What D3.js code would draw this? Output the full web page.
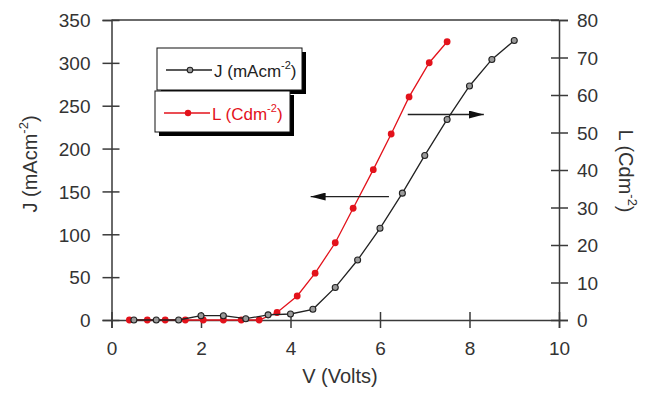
<!DOCTYPE html>
<html>
<head>
<meta charset="utf-8">
<script src="https://cdn.jsdelivr.net/npm/d3@7"></script>
<style>
  html, body { margin: 0; padding: 0; background: #fff; }
  svg { display: block; font-family: "Liberation Sans", Arial, sans-serif; }
</style>
</head>
<body>
<svg id="chart" width="651" height="393"></svg>
<script>
// ---- data ----
const jVolts = [0.5, 1, 1.5, 2, 2.5, 3, 3.5, 4, 4.5, 5, 5.5, 6, 6.5, 7, 7.5, 8, 8.5, 9];
const jValues = [0, 0, 0, 5, 5, 1.5, 6, 7, 12.5, 38, 70, 107, 148, 192, 234, 273, 304, 326];
const lVolts = [0.4, 0.8, 1.2, 1.65, 2.05, 2.5, 2.9, 3.3, 3.7, 4.15, 4.55, 5.0, 5.4, 5.85, 6.25, 6.65, 7.1, 7.5];
const lValues = [0, 0, 0, 0, 0, 0, 0, 0, 2, 6.4, 12.5, 20.6, 29.8, 40.1, 49.6, 59.5, 68.6, 74.2];
const xTicks = [0, 2, 4, 6, 8, 10];
const leftTicks = [0, 50, 100, 150, 200, 250, 300, 350];
const rightTicks = [0, 10, 20, 30, 40, 50, 60, 70, 80];
const seriesNames = ["J (mAcm", "L (Cdm"];

const svg = d3.select("#chart");
const L = 111.5, R = 559, T = 20, B = 320;
const x = d3.scaleLinear().domain([0, 10]).range([L, R]);
const yL = d3.scaleLinear().domain([0, 350]).range([B, T]);
const yR = d3.scaleLinear().domain([0, 80]).range([B, T]);
const axisColor = "#3a3a3a";
const red = "#e3121b";

// top border
svg.append("line").attr("x1", L).attr("x2", R).attr("y1", T).attr("y2", T)
  .attr("stroke", axisColor).attr("stroke-width", 1.5);

function styleAxis(g, inner, outer, dir) {
  g.select(".domain").attr("stroke", axisColor).attr("stroke-width", 1.5);
  g.selectAll(".tick line").attr("stroke", axisColor).attr("stroke-width", 1.5);
  g.selectAll(".tick text").attr("fill", "#333").attr("font-size", "19px")
    .attr("font-family", "'Liberation Sans', Arial, sans-serif");
}

// x axis
const gx = svg.append("g").attr("transform", `translate(0,${B})`)
  .call(d3.axisBottom(x).tickValues(xTicks).tickFormat(d3.format("d")).tickSizeOuter(0).tickSize(8));
styleAxis(gx);
gx.selectAll(".tick line").attr("y1", -8).attr("y2", 8);
gx.selectAll(".tick text").attr("y", 35).attr("dy", 0);

// left axis
const gl = svg.append("g").attr("transform", `translate(${L},0)`)
  .call(d3.axisLeft(yL).tickValues(leftTicks).tickFormat(d3.format("d")).tickSizeOuter(0).tickSize(9));
styleAxis(gl);
gl.selectAll(".tick line").attr("x1", -9).attr("x2", 8);
gl.selectAll(".tick text").attr("x", -21).attr("dy", "0.36em");

// right axis
const gr = svg.append("g").attr("transform", `translate(${R},0)`)
  .call(d3.axisRight(yR).tickValues(rightTicks).tickFormat(d3.format("d")).tickSizeOuter(0).tickSize(9));
styleAxis(gr);
gr.selectAll(".tick line").attr("x1", -8).attr("x2", 9);
gr.selectAll(".tick text").attr("x", 18).attr("dy", "0.36em");

// axis titles
svg.append("text").attr("x", 340).attr("y", 383).attr("text-anchor", "middle")
  .attr("font-size", "20px").attr("fill", "#333").text("V (Volts)");

const tl = svg.append("text").attr("transform", "translate(37,164) rotate(-90)")
  .attr("text-anchor", "middle").attr("font-size", "20px").attr("fill", "#333");
tl.append("tspan").text("J (mAcm");
tl.append("tspan").attr("font-size", "13px").attr("dy", -9).text("-2");
tl.append("tspan").attr("dy", 9).text(")");

const tr = svg.append("text").attr("transform", "translate(619,171) rotate(90)")
  .attr("text-anchor", "middle").attr("font-size", "20px").attr("fill", "#333");
tr.append("tspan").text("L (Cdm");
tr.append("tspan").attr("font-size", "13px").attr("dy", -9).text("-2");
tr.append("tspan").attr("dy", 9).text(")");

// series lines
const jData = jVolts.map((v, i) => [v, jValues[i]]);
const lData = lVolts.map((v, i) => [v, lValues[i]]);
const lineJ = d3.line().x(d => x(d[0])).y(d => yL(d[1]));
const lineL = d3.line().x(d => x(d[0])).y(d => yR(d[1]));

svg.append("path").datum(lData).attr("d", lineL).attr("fill", "none")
  .attr("stroke", red).attr("stroke-width", 1.3);
svg.selectAll(".lpt").data(lData).enter().append("circle")
  .attr("cx", d => x(d[0])).attr("cy", d => yR(d[1])).attr("r", 3.4).attr("fill", red);

svg.append("path").datum(jData).attr("d", lineJ).attr("fill", "none")
  .attr("stroke", "#222").attr("stroke-width", 1.3);
svg.selectAll(".jpt").data(jData).enter().append("circle")
  .attr("cx", d => x(d[0])).attr("cy", d => yL(d[1])).attr("r", 3)
  .attr("fill", "#9a9a9a").attr("stroke", "#222").attr("stroke-width", 1.1);

// arrows
const defs = svg.append("defs");
defs.append("marker").attr("id", "ah").attr("viewBox", "0 0 15 8")
  .attr("refX", 15).attr("refY", 4).attr("markerWidth", 15).attr("markerHeight", 8)
  .attr("markerUnits", "userSpaceOnUse").attr("orient", "auto")
  .append("path").attr("d", "M0,0 L15,4 L0,8 Z").attr("fill", "#111");
// left-pointing arrow (J -> left axis)
svg.append("line").attr("x1", x(6.2)).attr("x2", x(4.45)).attr("y1", yL(144)).attr("y2", yL(144))
  .attr("stroke", "#222").attr("stroke-width", 1.3).attr("marker-end", "url(#ah)");
// right-pointing arrow (L -> right axis)
svg.append("line").attr("x1", x(6.62)).attr("x2", x(8.32)).attr("y1", yR(54.8)).attr("y2", yR(54.8))
  .attr("stroke", "#222").attr("stroke-width", 1.3).attr("marker-end", "url(#ah)");

// legend
function legendBox(x0, y0, w, h, color, name, filled) {
  const g = svg.append("g");
  g.append("rect").attr("x", x0 + 4).attr("y", y0 + 4).attr("width", w).attr("height", h).attr("fill", "#000");
  g.append("rect").attr("x", x0).attr("y", y0).attr("width", w).attr("height", h)
    .attr("fill", "#fff").attr("stroke", "#111").attr("stroke-width", 1);
  const ly = y0 + 22;
  g.append("line").attr("x1", x0 + 9).attr("x2", x0 + 55).attr("y1", ly).attr("y2", ly)
    .attr("stroke", color).attr("stroke-width", 1.3);
  if (filled) {
    g.append("circle").attr("cx", x0 + 33).attr("cy", ly).attr("r", 3.2).attr("fill", color);
  } else {
    g.append("circle").attr("cx", x0 + 33).attr("cy", ly).attr("r", 2.8)
      .attr("fill", "#9a9a9a").attr("stroke", color).attr("stroke-width", 1.1);
  }
  const t = g.append("text").attr("x", x0 + 57).attr("y", ly + 7).attr("font-size", "17px").attr("fill", color);
  t.append("tspan").text(name);
  t.append("tspan").attr("font-size", "11px").attr("dy", -8).text("-2");
  t.append("tspan").attr("dy", 8).text(")");
}
legendBox(157, 48, 145, 42, "#222", seriesNames[0], false);
legendBox(155, 91, 135, 41, red, seriesNames[1], true);
</script>
</body>
</html>
